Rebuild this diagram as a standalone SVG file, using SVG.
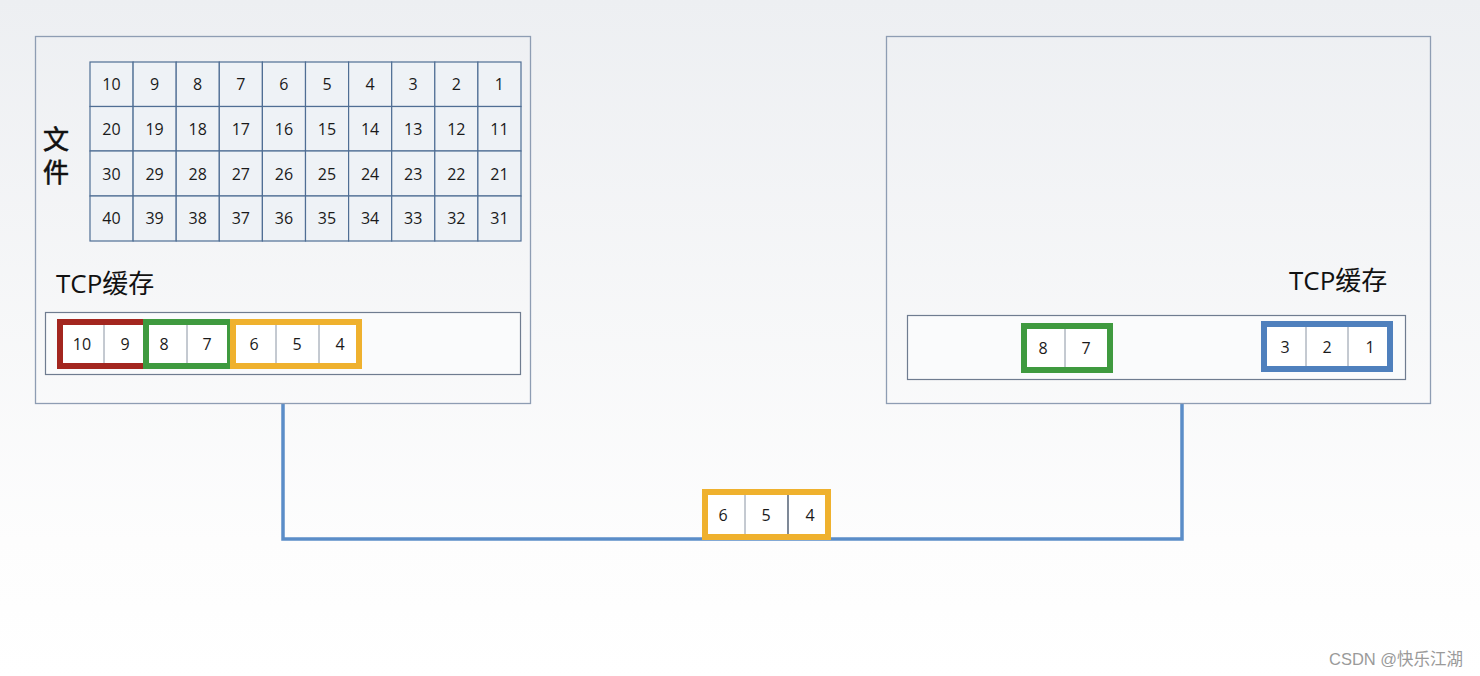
<svg xmlns="http://www.w3.org/2000/svg" width="1480" height="676" viewBox="0 0 1480 676">
<defs>
<linearGradient id="bg" x1="0" y1="0" x2="0" y2="1">
<stop offset="0" stop-color="#edeff2"/>
<stop offset="0.8" stop-color="#fdfdfd"/>
<stop offset="1" stop-color="#ffffff"/>
</linearGradient>
</defs>
<style>
.host{fill:none;stroke:#8e9db3;stroke-width:1.3}
.buf{fill:#fafbfc;stroke:#6f7c90;stroke-width:1.2}
.cell{fill:#eef2f6;stroke:#4f6e94;stroke-width:1.2}
.n{font-family:"Open Sans","Liberation Sans",sans-serif;font-size:16px;fill:#1a1a1a;text-anchor:middle;dominant-baseline:central}
.sc{fill:#ffffff;stroke:#8a94a3;stroke-width:1}
.lbl{font-family:"Open Sans","Noto Sans CJK SC",sans-serif;font-size:26px;fill:#111}
.red{fill:none;stroke:#a3261f;stroke-width:6}
.green{fill:none;stroke:#3f9a3f;stroke-width:6}
.yellow{fill:none;stroke:#efb12e;stroke-width:6}
.blue{fill:none;stroke:#4f80bd;stroke-width:6}
.wire{fill:none;stroke:#5b8dc8;stroke-width:3.5}
</style>
<rect width="1480" height="676" fill="url(#bg)"/>

<g id="connectors">
<path class="wire" d="M283,403 V539 H1182 V403"/>
</g>

<g id="sender">
<rect class="host" x="35.5" y="36.5" width="495" height="367"/>
<text class="lbl" x="43" y="149" font-size="29" stroke="#111" stroke-width="0.6">文</text>
<text class="lbl" x="43" y="182" font-size="29" stroke="#111" stroke-width="0.6">件</text>
<g id="file-grid">
<rect class="cell" x="90" y="62" width="43.1" height="44.5"/><text class="n" x="111.5" y="84">10</text>
<rect class="cell" x="133.1" y="62" width="43.1" height="44.5"/><text class="n" x="154.6" y="84">9</text>
<rect class="cell" x="176.2" y="62" width="43.1" height="44.5"/><text class="n" x="197.7" y="84">8</text>
<rect class="cell" x="219.3" y="62" width="43.1" height="44.5"/><text class="n" x="240.8" y="84">7</text>
<rect class="cell" x="262.4" y="62" width="43.1" height="44.5"/><text class="n" x="283.9" y="84">6</text>
<rect class="cell" x="305.5" y="62" width="43.1" height="44.5"/><text class="n" x="327" y="84">5</text>
<rect class="cell" x="348.6" y="62" width="43.1" height="44.5"/><text class="n" x="370.1" y="84">4</text>
<rect class="cell" x="391.7" y="62" width="43.1" height="44.5"/><text class="n" x="413.2" y="84">3</text>
<rect class="cell" x="434.8" y="62" width="43.1" height="44.5"/><text class="n" x="456.3" y="84">2</text>
<rect class="cell" x="477.9" y="62" width="43.1" height="44.5"/><text class="n" x="499.4" y="84">1</text>

<rect class="cell" x="90" y="106.5" width="43.1" height="44.5"/><text class="n" x="111.5" y="129">20</text>
<rect class="cell" x="133.1" y="106.5" width="43.1" height="44.5"/><text class="n" x="154.6" y="129">19</text>
<rect class="cell" x="176.2" y="106.5" width="43.1" height="44.5"/><text class="n" x="197.7" y="129">18</text>
<rect class="cell" x="219.3" y="106.5" width="43.1" height="44.5"/><text class="n" x="240.8" y="129">17</text>
<rect class="cell" x="262.4" y="106.5" width="43.1" height="44.5"/><text class="n" x="283.9" y="129">16</text>
<rect class="cell" x="305.5" y="106.5" width="43.1" height="44.5"/><text class="n" x="327" y="129">15</text>
<rect class="cell" x="348.6" y="106.5" width="43.1" height="44.5"/><text class="n" x="370.1" y="129">14</text>
<rect class="cell" x="391.7" y="106.5" width="43.1" height="44.5"/><text class="n" x="413.2" y="129">13</text>
<rect class="cell" x="434.8" y="106.5" width="43.1" height="44.5"/><text class="n" x="456.3" y="129">12</text>
<rect class="cell" x="477.9" y="106.5" width="43.1" height="44.5"/><text class="n" x="499.4" y="129">11</text>

<rect class="cell" x="90" y="151" width="43.1" height="45"/><text class="n" x="111.5" y="174">30</text>
<rect class="cell" x="133.1" y="151" width="43.1" height="45"/><text class="n" x="154.6" y="174">29</text>
<rect class="cell" x="176.2" y="151" width="43.1" height="45"/><text class="n" x="197.7" y="174">28</text>
<rect class="cell" x="219.3" y="151" width="43.1" height="45"/><text class="n" x="240.8" y="174">27</text>
<rect class="cell" x="262.4" y="151" width="43.1" height="45"/><text class="n" x="283.9" y="174">26</text>
<rect class="cell" x="305.5" y="151" width="43.1" height="45"/><text class="n" x="327" y="174">25</text>
<rect class="cell" x="348.6" y="151" width="43.1" height="45"/><text class="n" x="370.1" y="174">24</text>
<rect class="cell" x="391.7" y="151" width="43.1" height="45"/><text class="n" x="413.2" y="174">23</text>
<rect class="cell" x="434.8" y="151" width="43.1" height="45"/><text class="n" x="456.3" y="174">22</text>
<rect class="cell" x="477.9" y="151" width="43.1" height="45"/><text class="n" x="499.4" y="174">21</text>

<rect class="cell" x="90" y="196" width="43.1" height="45"/><text class="n" x="111.5" y="218">40</text>
<rect class="cell" x="133.1" y="196" width="43.1" height="45"/><text class="n" x="154.6" y="218">39</text>
<rect class="cell" x="176.2" y="196" width="43.1" height="45"/><text class="n" x="197.7" y="218">38</text>
<rect class="cell" x="219.3" y="196" width="43.1" height="45"/><text class="n" x="240.8" y="218">37</text>
<rect class="cell" x="262.4" y="196" width="43.1" height="45"/><text class="n" x="283.9" y="218">36</text>
<rect class="cell" x="305.5" y="196" width="43.1" height="45"/><text class="n" x="327" y="218">35</text>
<rect class="cell" x="348.6" y="196" width="43.1" height="45"/><text class="n" x="370.1" y="218">34</text>
<rect class="cell" x="391.7" y="196" width="43.1" height="45"/><text class="n" x="413.2" y="218">33</text>
<rect class="cell" x="434.8" y="196" width="43.1" height="45"/><text class="n" x="456.3" y="218">32</text>
<rect class="cell" x="477.9" y="196" width="43.1" height="45"/><text class="n" x="499.4" y="218">31</text>
</g>
<text class="lbl" x="56" y="293">TCP缓存</text>
<g id="sender-buffer">
<rect class="buf" x="45.5" y="312.5" width="475" height="62"/>
<rect class="sc" x="61" y="322" width="84" height="43"/>
<line class="sc" x1="104" y1="322" x2="104" y2="365"/>
<rect class="sc" x="148" y="322" width="81" height="43"/>
<line class="sc" x1="187" y1="322" x2="187" y2="365"/>
<rect class="sc" x="234" y="322" width="124" height="43"/>
<line class="sc" x1="276" y1="322" x2="276" y2="365"/>
<line class="sc" x1="319" y1="322" x2="319" y2="365"/>
<rect class="red" x="60" y="322" width="86" height="44"/>
<rect class="green" x="146" y="322" width="84" height="44"/>
<rect class="yellow" x="233" y="322" width="126" height="44"/>
<text class="n" x="82" y="344">10</text>
<text class="n" x="125" y="344">9</text>
<text class="n" x="164" y="344">8</text>
<text class="n" x="207" y="344">7</text>
<text class="n" x="254" y="344">6</text>
<text class="n" x="297" y="344">5</text>
<text class="n" x="340" y="344">4</text>
</g>
</g>

<g id="receiver">
<rect class="host" x="886.5" y="36.5" width="544" height="367"/>
<text class="lbl" x="1289" y="290">TCP缓存</text>
<g id="receiver-buffer">
<rect class="buf" x="907.5" y="315.5" width="498" height="64"/>
<rect class="sc" x="1025" y="326" width="84" height="43"/>
<line class="sc" x1="1065" y1="326" x2="1065" y2="369"/>
<rect class="green" x="1024" y="326" width="86" height="44"/>
<text class="n" x="1043" y="348">8</text>
<text class="n" x="1086" y="348">7</text>
<rect class="sc" x="1265" y="324" width="124" height="44"/>
<line class="sc" x1="1306" y1="324" x2="1306" y2="368"/>
<line class="sc" x1="1348" y1="324" x2="1348" y2="368"/>
<rect class="blue" x="1264" y="324" width="126" height="45"/>
<text class="n" x="1285" y="347">3</text>
<text class="n" x="1327" y="347">2</text>
<text class="n" x="1370" y="347">1</text>
</g>
</g>

<g id="packet">
<rect class="sc" x="706" y="493" width="121" height="43"/>
<line class="sc" x1="745" y1="493" x2="745" y2="536"/>
<line x1="788" y1="493" x2="788" y2="536" stroke="#3a4a60" stroke-width="1.3"/>
<rect class="yellow" x="705" y="492" width="123" height="45"/>
<text class="n" x="723" y="515">6</text>
<text class="n" x="766" y="515">5</text>
<text class="n" x="810" y="515">4</text>
</g>

<text x="1329" y="665" font-family="'Liberation Sans','Noto Sans CJK SC',sans-serif" font-size="16.5" fill="#9a9a9a">CSDN @快乐江湖</text>
</svg>
